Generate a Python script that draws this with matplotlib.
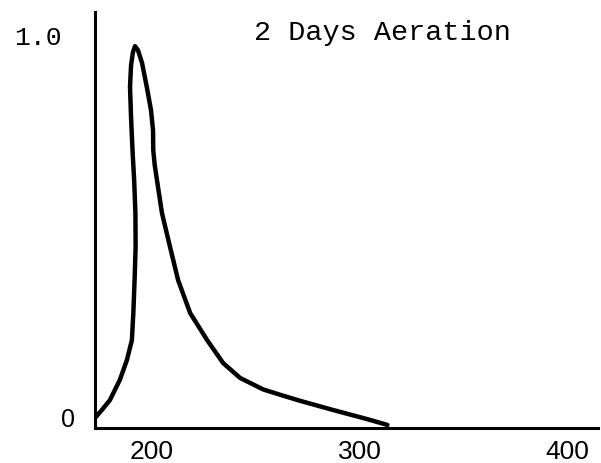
import matplotlib
matplotlib.use("Agg")
import matplotlib.pyplot as plt

# traced curve: rising side then falling side
rise_x = [172.5, 175.8, 179.7, 184.5, 187.9, 190.3, 191.0, 191.6, 192.1, 192.0,
          191.4, 190.6, 189.9, 189.4, 189.9, 190.8, 191.8]
rise_y = [0.005, 0.026, 0.052, 0.105, 0.157, 0.209, 0.280, 0.366, 0.453, 0.542,
          0.628, 0.707, 0.793, 0.872, 0.929, 0.963, 0.979]
fall_x = [193.2, 195.2, 197.6, 199.5, 200.5, 200.6, 201.3, 202.4, 204.8, 208.7,
          212.6, 218.4, 226.6, 234.3, 242.5, 253.6, 263.0, 271.5, 287.4, 303.9, 313.5]
fall_y = [0.969, 0.935, 0.869, 0.812, 0.759, 0.707, 0.668, 0.628, 0.542, 0.453,
          0.366, 0.280, 0.209, 0.149, 0.110, 0.080, 0.064, 0.050, 0.026, 0.002, -0.013]

x_ticks = [200, 300, 400]
title = "2 Days Aeration"

fig = plt.figure(figsize=(6.01, 4.63), dpi=100)
ax = fig.add_axes([0.158, 0.0756, 0.837, 0.898])

ax.plot(rise_x + fall_x, rise_y + fall_y, color="black", lw=3.2,
        solid_joinstyle="round", solid_capstyle="round")

ax.set_xlim(172.5, 415)
ax.set_ylim(-0.021, 1.068)

for side in ["top", "right"]:
    ax.spines[side].set_visible(False)
for side in ["left", "bottom"]:
    ax.spines[side].set_linewidth(2.2)

ax.set_xticks(x_ticks)
ax.set_xticklabels([str(v) for v in x_ticks], fontsize=19,
                   fontfamily="Liberation Sans")
ax.tick_params(axis="x", length=0, pad=9)
ax.set_yticks([])

ax.text(-0.04, 0.0, "0", transform=ax.get_yaxis_transform(),
        ha="right", va="center", fontsize=18, fontfamily="Liberation Sans")
ax.text(-0.066, 1.0, "1.0", transform=ax.get_yaxis_transform(),
        ha="right", va="center", fontsize=19, fontfamily="Liberation Mono")

fig.text(254 / 601, 1 - 33 / 463, title, ha="left", va="center",
         fontsize=20.5, fontfamily="Liberation Mono")

fig.savefig("out.png", dpi=100)
